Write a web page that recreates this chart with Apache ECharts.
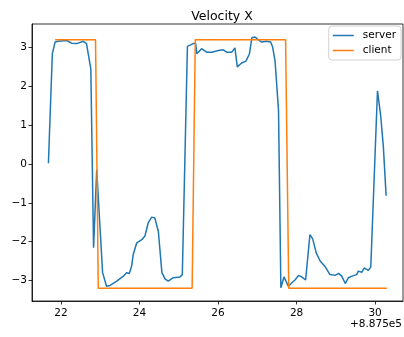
<!DOCTYPE html>
<html>
<head>
<meta charset="utf-8">
<script src="https://cdn.jsdelivr.net/npm/echarts@6/dist/echarts.min.js"></script>
<style>
  html, body { margin: 0; padding: 0; background: #fff; }
  #chart { width: 404px; height: 337px; }
</style>
</head>
<body>
<div id="chart"></div>
<script>
// time offset from 8.875e5
const serverT = [21.68, 21.78, 21.85, 21.93, 22.15, 22.27, 22.40, 22.57, 22.65, 22.76,
  22.83, 22.91, 23.06, 23.16, 23.25, 23.42, 23.59, 23.67, 23.74, 23.80,
  23.84, 23.93, 24.06, 24.14, 24.22, 24.31, 24.39, 24.48, 24.57, 24.65,
  24.73, 24.86, 25.03, 25.09, 25.22, 25.37, 25.43, 25.46, 25.58, 25.71,
  25.84, 26.01, 26.13, 26.22, 26.35, 26.43, 26.49, 26.60, 26.71, 26.80,
  26.86, 26.94, 27.00, 27.05, 27.11, 27.24, 27.34, 27.39, 27.45, 27.54,
  27.60, 27.68, 27.79, 27.88, 27.96, 28.05, 28.13, 28.23, 28.34, 28.41,
  28.50, 28.60, 28.73, 28.85, 28.98, 29.07, 29.15, 29.24, 29.32, 29.41,
  29.53, 29.57, 29.66, 29.72, 29.77, 29.83, 29.89, 30.06, 30.14, 30.21, 30.28];
const serverV = [0.02, 2.84, 3.14, 3.16, 3.18, 3.11, 3.10, 3.16, 3.10, 2.45,
  -2.16, -0.15, -2.80, -3.15, -3.13, -3.02, -2.89, -2.80, -2.82, -2.63,
  -2.33, -2.03, -1.95, -1.85, -1.52, -1.37, -1.39, -1.74, -2.80, -2.96,
  -3.02, -2.93, -2.91, -2.85, 3.03, 3.10, 3.10, 2.84, 2.97, 2.88,
  2.88, 2.92, 2.94, 2.88, 2.88, 2.99, 2.50, 2.60, 2.65, 2.84,
  3.25, 3.27, 3.22, 3.25, 3.14, 3.16, 3.14, 3.01, 2.67, 1.38,
  -3.19, -2.91, -3.15, -3.06, -2.99, -2.87, -2.91, -2.99, -1.82, -1.93,
  -2.29, -2.50, -2.65, -2.85, -2.87, -2.82, -2.89, -3.08, -2.93, -2.89,
  -2.85, -2.76, -2.79, -2.68, -2.65, -2.74, -2.65, 1.88, 1.26, 0.44, -0.82];

const clientT = [21.85, 22.88, 22.95, 25.34, 25.42, 27.72, 27.80, 30.30];
const clientV = [3.2, 3.2, -3.2, -3.2, 3.2, 3.2, -3.2, -3.2];

const xTicks = [22, 24, 26, 28, 30];
const yTicks = [-3, -2, -1, 0, 1, 2, 3];

const zip = (a, b) => a.map((t, i) => [t, b[i]]);
const minus = (v) => String(v).replace('-', '\u2212');

const font = 'DejaVu Sans';
const chart = echarts.init(document.getElementById('chart'), null, { renderer: 'canvas' });

const axisCommon = {
  axisLine: { show: true, onZero: false, lineStyle: { color: '#000', width: 0.8 } },
  axisTick: { show: true, inside: false, length: 3.5, lineStyle: { color: '#000', width: 0.8 } },
  splitLine: { show: false },
  axisLabel: { color: '#000', fontFamily: font, fontSize: 10.5, margin: 5, formatter: minus }
};

chart.setOption({
  animation: false,
  backgroundColor: '#fff',
  title: {
    text: 'Velocity X',
    left: 217, top: 5, textAlign: 'center',
    textStyle: { fontFamily: font, fontSize: 12.5, fontWeight: 'normal', color: '#000' }
  },
  legend: {
    right: 3, top: 26,
    orient: 'vertical',
    backgroundColor: 'rgba(255,255,255,0.8)',
    borderColor: '#d0d0d0', borderWidth: 1, borderRadius: 3,
    padding: [4, 5, 4, 4],
    itemGap: 4,
    icon: 'rect', itemWidth: 21, itemHeight: 1.5,
    textStyle: { fontFamily: font, fontSize: 10.5, color: '#000', padding: [0, 0, 0, 4] },
    data: ['server', 'client']
  },
  grid: { left: 32, right: 1, top: 24, bottom: 36, containLabel: false, show: true,
    borderColor: '#000', borderWidth: 0.8, backgroundColor: 'transparent' },
  xAxis: Object.assign({}, axisCommon, {
    type: 'value', min: 21.262, max: 30.71,
    axisTick: Object.assign({}, axisCommon.axisTick, { customValues: xTicks }),
    axisLabel: Object.assign({}, axisCommon.axisLabel, { customValues: xTicks, margin: 7 })
  }),
  yAxis: Object.assign({}, axisCommon, {
    type: 'value', min: -3.53, max: 3.605,
    axisTick: Object.assign({}, axisCommon.axisTick, { customValues: yTicks }),
    axisLabel: Object.assign({}, axisCommon.axisLabel, { customValues: yTicks })
  }),
  graphic: [{
    type: 'text', right: 2, top: 319,
    style: { text: '+8.875e5', fontFamily: font, fontSize: 10.5, fill: '#000' }
  }],
  series: [
    {
      name: 'server', type: 'line', data: zip(serverT, serverV),
      showSymbol: false, symbol: 'none',
      lineStyle: { color: '#1f77b4', width: 1.5 }, itemStyle: { color: '#1f77b4' }
    },
    {
      name: 'client', type: 'line', data: zip(clientT, clientV),
      showSymbol: false, symbol: 'none',
      lineStyle: { color: '#ff7f0e', width: 1.5 }, itemStyle: { color: '#ff7f0e' }
    }
  ]
});
</script>
</body>
</html>
